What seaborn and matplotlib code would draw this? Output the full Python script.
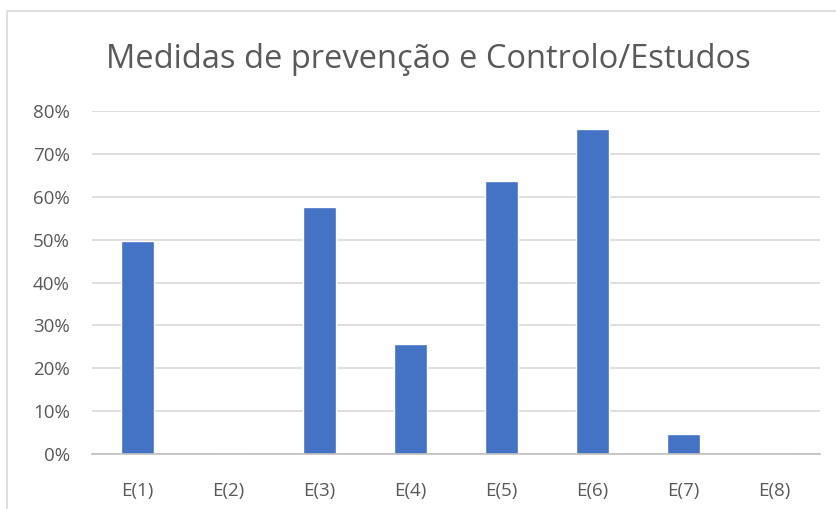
import matplotlib
matplotlib.use("Agg")
import matplotlib.pyplot as plt
import seaborn as sns
import pandas as pd
from matplotlib.patches import Rectangle
from matplotlib.ticker import PercentFormatter

categories = ["E(1)", "E(2)", "E(3)", "E(4)", "E(5)", "E(6)", "E(7)", "E(8)"]
values = [0.497, 0.0, 0.576, 0.256, 0.636, 0.757, 0.046, 0.0]
title = "Medidas de prevenção e Controlo/Estudos"

sns.set_style("white")
plt.rcParams['font.family'] = ['Open Sans', 'DejaVu Sans']

df = pd.DataFrame({"cat": categories, "val": values})

fig = plt.figure(figsize=(8.36, 5.09), dpi=100)
ax = fig.add_axes([92/836, 1 - 454/509, (820 - 92)/836, (454 - 111)/509])

sns.barplot(data=df, x="cat", y="val", color="#4472C4", width=0.36, saturation=1, ax=ax, zorder=3)

ax.set_ylim(0, 0.8)
ax.set_xlim(-0.5, len(categories) - 0.5)
ax.set_yticks([i / 10 for i in range(9)])
ax.yaxis.set_major_formatter(PercentFormatter(1.0, decimals=0))
ax.grid(axis="y", color="#D9D9D9", linewidth=1.2, zorder=0)
ax.set_xlabel("")
ax.set_ylabel("")
for s in ["top", "right", "left"]:
    ax.spines[s].set_visible(False)
ax.spines["bottom"].set_color("#BFBFBF")
ax.spines["bottom"].set_linewidth(1.2)
ax.spines["bottom"].set_zorder(4)

ax.set_xticks(range(len(categories)))
ax.set_xticklabels(categories)
ax.set_xticks([i - 0.5 for i in range(len(categories) + 1)], minor=True)
ax.tick_params(axis="x", which="major", length=0, pad=20, labelsize=13.5, labelcolor="#595959")
ax.tick_params(axis="x", which="minor", length=8, width=1.2, color="#BFBFBF", direction="out")
ax.tick_params(axis="y", length=0, pad=16, labelsize=13.5, labelcolor="#595959")

fig.text(428/836, 1 - 59/509, title, ha="center", va="center", fontsize=23.5, color="#595959")

fig.patches.append(Rectangle((7/836, -0.1), 1.0, 1 - 11/509 + 0.1, transform=fig.transFigure,
                             fill=False, edgecolor="#D9D9D9", linewidth=1.2))

fig.savefig("out.png", dpi=100)
